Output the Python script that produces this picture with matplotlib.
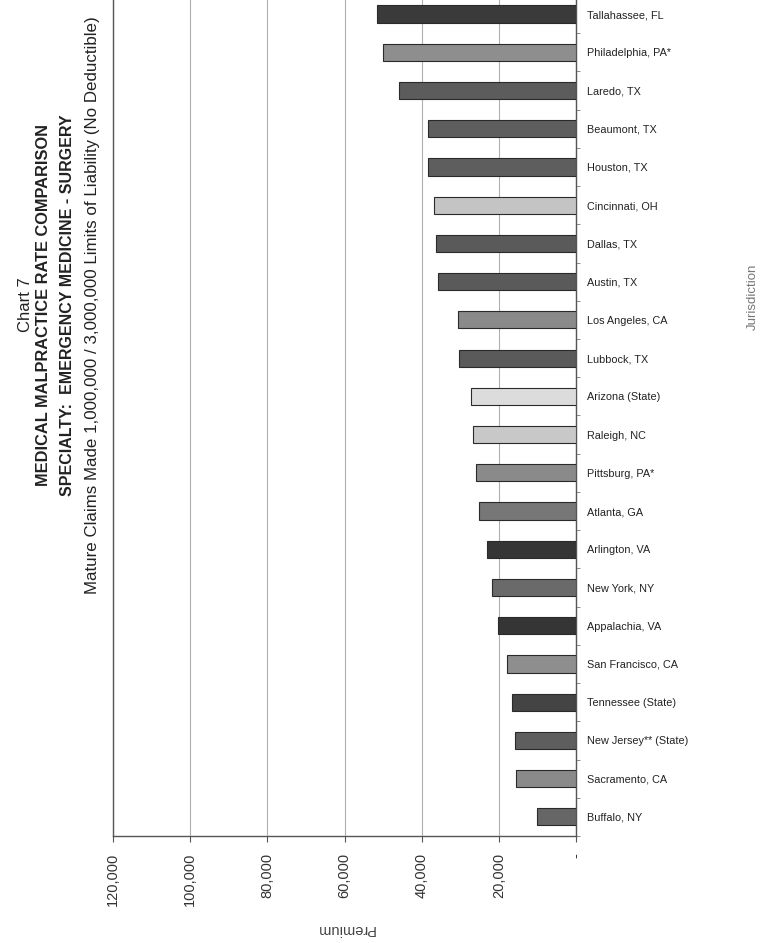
import matplotlib
matplotlib.use("Agg")
import matplotlib.pyplot as plt
import numpy as np

plt.rcParams["font.family"] = ["Liberation Sans", "DejaVu Sans"]

# jurisdictions, top of chart first
jurisdictions = ["Tallahassee, FL", "Philadelphia, PA*", "Laredo, TX", "Beaumont, TX",
                 "Houston, TX", "Cincinnati, OH", "Dallas, TX", "Austin, TX",
                 "Los Angeles, CA", "Lubbock, TX", "Arizona (State)", "Raleigh, NC",
                 "Pittsburg, PA*", "Atlanta, GA", "Arlington, VA", "New York, NY",
                 "Appalachia, VA", "San Francisco, CA", "Tennessee (State)",
                 "New Jersey** (State)", "Sacramento, CA", "Buffalo, NY"]
premiums = [51600, 50100, 45900, 38400, 38400, 36800, 36400, 35700, 30700, 30300,
            27300, 26700, 25900, 25200, 23200, 21900, 20400, 18000, 16600, 15900,
            15700, 10100]
bar_colors = ["#3a3a3a", "#8e8e8e", "#5c5c5c", "#5e5e5e", "#5e5e5e", "#c4c4c4",
              "#5a5a5a", "#5a5a5a", "#8a8a8a", "#5a5a5a", "#dcdcdc", "#c8c8c8",
              "#8a8a8a", "#777777", "#353535", "#6a6a6a", "#353535", "#8e8e8e",
              "#444444", "#5e5e5e", "#8a8a8a", "#666666"]
x_ticks = [0, 20000, 40000, 60000, 80000, 100000, 120000]
x_tick_labels = ["-", "20,000", "40,000", "60,000", "80,000", "100,000", "120,000"]
title_lines = ["Chart 7",
               "MEDICAL MALPRACTICE RATE COMPARISON",
               "SPECIALTY:  EMERGENCY MEDICINE - SURGERY",
               "Mature Claims Made 1,000,000 / 3,000,000 Limits of Liability (No Deductible)"]

fig = plt.figure(figsize=(7.6, 9.43), dpi=100)
ax = fig.add_axes([113 / 760, 1 - 836 / 943, (576.3 - 113) / 760, (836 + 5.1) / 943])

n = len(jurisdictions)
ypos = np.arange(n)[::-1]
ax.barh(ypos, premiums, height=0.45, color=bar_colors, edgecolor="#2a2a2a",
        linewidth=0.8, zorder=3)

ax.set_xlim(120000, 0)
ax.set_ylim(-0.5, n - 0.5)

#vertical grid lines
ax.set_xticks(x_ticks)
ax.set_xticklabels(x_tick_labels, rotation=90, fontsize=10.5, color="#333333")
ax.grid(axis="x", color="#b0b0b0", linewidth=0.8, zorder=0)
ax.tick_params(axis="x", direction="out", length=4, pad=8, color="#555555")

#category axis on the right (zero line)
ax.yaxis.tick_right()
ax.set_yticks(ypos)
ax.set_yticklabels(jurisdictions, fontsize=7.8, color="#222222")
ax.set_yticks(np.arange(-0.5, n, 1.0), minor=True)
ax.tick_params(axis="y", which="major", length=0, pad=8)
ax.tick_params(axis="y", which="minor", length=3, direction="out", color="#777777")

for side in ["left", "bottom", "right"]:
    ax.spines[side].set_color("#555555")
    ax.spines[side].set_linewidth(1.0)
ax.spines["top"].set_visible(False)

#rotated title block on the left
title_x = [25, 44, 68, 93]
title_sizes = [12, 11.8, 11.5, 12.2]
for i, line in enumerate(title_lines):
    weight = "bold" if i in (1, 2) else "normal"
    fig.text(title_x[i] / 760, 1 - 305 / 943, line, rotation=90, ha="center",
             va="center", fontsize=title_sizes[i], fontweight=weight, color="#222222")

fig.text(345 / 760, 1 - 929 / 943, "Premium", rotation=180, ha="center",
         va="center", fontsize=10.5, color="#444444")
fig.text(753 / 760, 1 - 297 / 943, "Jurisdiction", rotation=90, ha="center",
         va="center", fontsize=9.5, color="#777777")

fig.savefig("out.png", dpi=100)
